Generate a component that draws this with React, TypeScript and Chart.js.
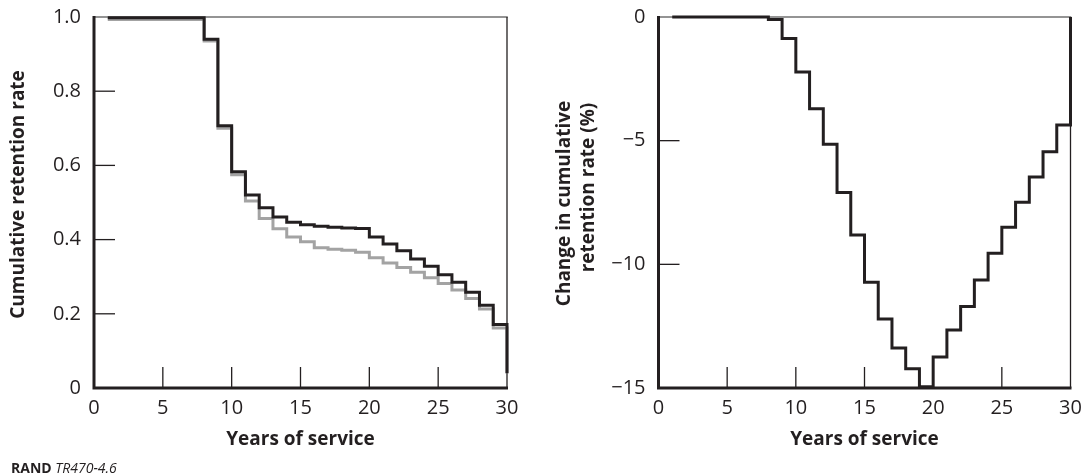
import { useEffect, useRef } from "react";
import { Chart, registerables } from "chart.js";

Chart.register(...registerables);

// ---- data ----
const YEARS = [1, 2, 3, 4, 5, 6, 7, 8, 9, 10, 11, 12, 13, 14, 15, 16, 17, 18, 19, 20, 21, 22, 23, 24, 25, 26, 27, 28, 29, 30];
const RETENTION_BLACK = [0.998, 0.998, 0.998, 0.998, 0.998, 0.998, 0.998, 0.94, 0.707, 0.583, 0.52, 0.486, 0.461, 0.447, 0.44, 0.436, 0.433, 0.431, 0.43, 0.407, 0.388, 0.37, 0.348, 0.328, 0.305, 0.285, 0.258, 0.223, 0.171, 0.04];
const RETENTION_GREY = [0.993, 0.993, 0.993, 0.993, 0.993, 0.993, 0.993, 0.935, 0.7, 0.575, 0.504, 0.457, 0.429, 0.407, 0.394, 0.378, 0.374, 0.371, 0.366, 0.351, 0.337, 0.325, 0.312, 0.297, 0.282, 0.264, 0.241, 0.213, 0.162, 0.04];
const CHANGE_PCT = [0, 0, 0, 0, 0, 0, 0, -0.1, -0.87, -2.22, -3.71, -5.14, -7.1, -8.81, -10.72, -12.21, -13.38, -14.22, -14.95, -13.75, -12.65, -11.7, -10.63, -9.55, -8.5, -7.49, -6.47, -5.45, -4.37, 0];
const X_TICKS = [0, 5, 10, 15, 20, 25, 30];
const LEFT_Y_TICKS = [0, 0.2, 0.4, 0.6, 0.8, 1.0];
const RIGHT_Y_TICKS = [-15, -10, -5, 0];
const X_TITLE = "Years of service";
const LEFT_Y_TITLE = ["Cumulative retention rate"];
const RIGHT_Y_TITLE = ["Change in cumulative", "retention rate (%)"];
const SOURCE_BOLD = "RAND";
const SOURCE_ITALIC = "TR470-4.6";

const INK = "#231f20";
const GREY = "#a3a3a3";
const TOP_GREY = "#707070";
const FONT = "'Open Sans', 'Noto Sans', sans-serif";

const framePlugin = {
  id: "frame",
  beforeDatasetsDraw(chart: any) {
    const { ctx, chartArea } = chart;
    const { left, right, top, bottom } = chartArea;
    const xs = chart.scales.x;
    const ys = chart.scales.y;
    ctx.save();
    ctx.lineCap = "butt";
    // inward tick marks
    ctx.strokeStyle = INK;
    ctx.lineWidth = 1.3;
    xs.ticks.forEach((t: any) => {
      if (t.value > xs.min && t.value < xs.max) {
        const px = xs.getPixelForValue(t.value);
        ctx.beginPath();
        ctx.moveTo(px, bottom);
        ctx.lineTo(px, bottom - 21);
        ctx.stroke();
      }
    });
    ys.ticks.forEach((t: any) => {
      if (t.value > ys.min && t.value < ys.max) {
        const py = ys.getPixelForValue(t.value);
        ctx.beginPath();
        ctx.moveTo(left, py);
        ctx.lineTo(left + 21, py);
        ctx.stroke();
      }
    });
    // thin top border
    ctx.strokeStyle = TOP_GREY;
    ctx.lineWidth = 1.5;
    ctx.beginPath();
    ctx.moveTo(left, top);
    ctx.lineTo(right + 0.75, top);
    ctx.stroke();
    // thin right border
    ctx.strokeStyle = INK;
    ctx.lineWidth = 1.3;
    ctx.beginPath();
    ctx.moveTo(right, top);
    ctx.lineTo(right, bottom);
    ctx.stroke();
    // thick left & bottom axes
    ctx.lineWidth = 3;
    ctx.beginPath();
    ctx.moveTo(left, top - 1);
    ctx.lineTo(left, bottom);
    ctx.lineTo(right + 1, bottom);
    ctx.stroke();
    ctx.restore();
  },
};

const yTitlePlugin = {
  id: "yTitle",
  afterDraw(chart: any, _args: any, opts: any) {
    const { ctx, chartArea } = chart;
    const mid = (chartArea.top + chartArea.bottom) / 2;
    ctx.save();
    ctx.fillStyle = INK;
    ctx.font = `bold 19px ${FONT}`;
    ctx.textAlign = "center";
    ctx.textBaseline = "middle";
    (opts.lines || []).forEach((ln: any) => {
      ctx.save();
      ctx.translate(chartArea.left + ln.dx, mid + ln.dy);
      ctx.rotate(-Math.PI / 2);
      ctx.fillText(ln.text, 0, 0);
      ctx.restore();
    });
    if (opts.source) {
      ctx.textAlign = "left";
      ctx.textBaseline = "alphabetic";
      ctx.font = `bold 14px ${FONT}`;
      ctx.fillText(SOURCE_BOLD, 11, 472.5);
      const w = ctx.measureText(SOURCE_BOLD + " ").width;
      ctx.font = `italic 14px ${FONT}`;
      ctx.fillText(SOURCE_ITALIC, 11 + w, 472.5);
    }
    ctx.restore();
  },
};

function makeConfig(opts: {
  datasets: any[];
  yMin: number;
  yMax: number;
  yTicks: number[];
  yFmt: (v: number) => string;
  yWidth: number;
  padRight: number;
  titleLines: any[];
  source: boolean;
}) {
  return {
    type: "line",
    data: { datasets: opts.datasets },
    plugins: [framePlugin, yTitlePlugin],
    options: {
      animation: false,
      responsive: false,
      maintainAspectRatio: false,
      devicePixelRatio: 1,
      layout: { padding: { left: 0, right: opts.padRight, top: 17, bottom: 0 } },
      plugins: {
        legend: { display: false },
        tooltip: { enabled: false },
        yTitle: { lines: opts.titleLines, source: opts.source },
      },
      elements: { point: { radius: 0 } },
      scales: {
        x: {
          type: "linear",
          min: 0,
          max: 30,
          afterBuildTicks: (s: any) => {
            s.ticks = X_TICKS.map((v) => ({ value: v }));
          },
          afterFit: (s: any) => {
            s.height = 87;
            s.paddingLeft = 0;
            s.paddingRight = 0;
          },
          grid: { display: false, drawTicks: false },
          border: { display: false },
          ticks: {
            color: INK,
            font: { family: FONT, size: 20 },
            padding: 8,
            maxRotation: 0,
            autoSkip: false,
            callback: (v: number) => String(v),
          },
          title: {
            display: true,
            text: X_TITLE,
            color: INK,
            font: { family: FONT, size: 19, weight: "bold" },
            padding: { top: 0, bottom: 24 },
          },
        },
        y: {
          type: "linear",
          min: opts.yMin,
          max: opts.yMax,
          afterBuildTicks: (s: any) => {
            s.ticks = opts.yTicks.map((v) => ({ value: v }));
          },
          afterFit: (s: any) => {
            s.width = opts.yWidth;
            s.paddingTop = 0;
            s.paddingBottom = 0;
          },
          grid: { display: false, drawTicks: false },
          border: { display: false },
          ticks: {
            color: INK,
            font: { family: FONT, size: 20 },
            padding: 13,
            autoSkip: false,
            callback: (v: number) => opts.yFmt(v),
          },
        },
      },
    },
  };
}

function StepChart(props: { config: any; left: number; width: number }) {
  const ref = useRef<HTMLCanvasElement | null>(null);
  useEffect(() => {
    if (!ref.current) return;
    const chart = new Chart(ref.current, props.config);
    return () => chart.destroy();
  }, []);
  return (
    <canvas
      ref={ref}
      width={props.width}
      height={475}
      style={{ position: "absolute", left: props.left, top: 0, width: props.width, height: 475 }}
    />
  );
}

export default function App() {
  const leftConfig = makeConfig({
    datasets: [
      {
        data: YEARS.map((x, i) => ({ x, y: RETENTION_BLACK[i] })),
        borderColor: INK,
        borderWidth: 3,
        stepped: "before",
        clip: false,
        order: 0,
      },
      {
        data: YEARS.map((x, i) => ({ x, y: RETENTION_GREY[i] })),
        borderColor: GREY,
        borderWidth: 3,
        stepped: "before",
        clip: false,
        order: 1,
      },
    ],
    yMin: 0,
    yMax: 1,
    yTicks: LEFT_Y_TICKS,
    yFmt: (v) => (v === 0 ? "0" : v.toFixed(1)),
    yWidth: 94,
    padRight: 33,
    titleLines: [{ text: LEFT_Y_TITLE[0], dx: -75, dy: -8 }],
    source: true,
  });
  const rightConfig = makeConfig({
    datasets: [
      {
        data: YEARS.map((x, i) => ({ x, y: CHANGE_PCT[i] })),
        borderColor: INK,
        borderWidth: 3,
        stepped: "before",
        clip: false,
      },
    ],
    yMin: -15,
    yMax: 0,
    yTicks: RIGHT_Y_TICKS,
    yFmt: (v) => (v === 0 ? "0" : "\u2212" + Math.abs(v)),
    yWidth: 118.5,
    padRight: 14.5,
    titleLines: [
      { text: RIGHT_Y_TITLE[0], dx: -93.5, dy: 1 },
      { text: RIGHT_Y_TITLE[1], dx: -69.5, dy: -15 },
    ],
    source: false,
  });
  return (
    <div style={{ position: "absolute", left: 0, top: 0, width: 1085, height: 475, background: "#fff" }}>
      <StepChart config={leftConfig} left={0} width={540} />
      <StepChart config={rightConfig} left={540} width={545} />
    </div>
  );
}
